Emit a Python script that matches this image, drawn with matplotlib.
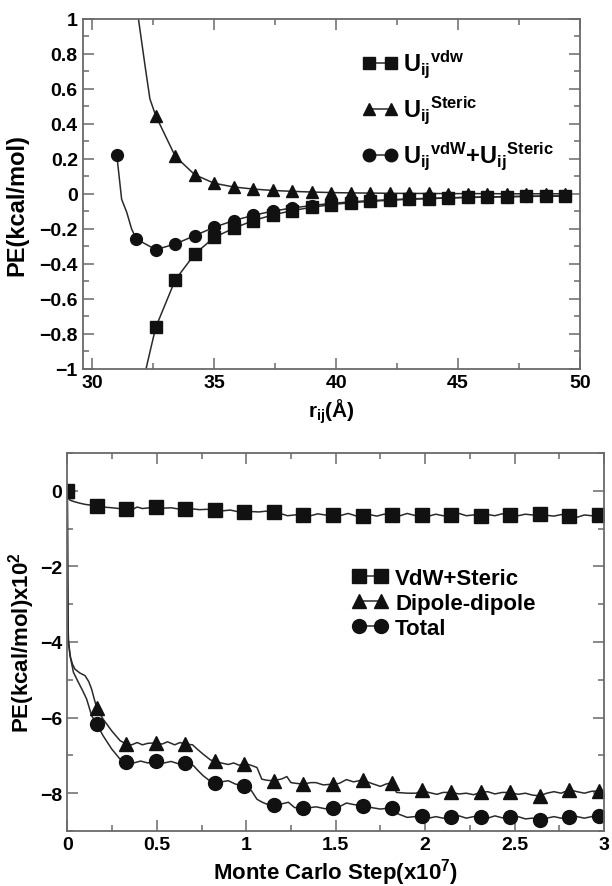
import matplotlib
matplotlib.use("Agg")
import matplotlib.pyplot as plt
from matplotlib.ticker import MultipleLocator, FuncFormatter
from matplotlib.lines import Line2D

plt.rcParams['font.family'] = ['Liberation Sans', 'DejaVu Sans']
plt.rcParams['font.weight'] = 'bold'
plt.rcParams['mathtext.fontset'] = 'custom'
plt.rcParams['mathtext.rm'] = 'Liberation Sans:bold'
plt.rcParams['mathtext.it'] = 'Liberation Sans:bold'
plt.rcParams['mathtext.bf'] = 'Liberation Sans:bold'

# ---------------- top panel data ----------------
r_sq = [32.6, 33.4, 34.2, 35.0, 35.8, 36.6, 37.4, 38.2, 39.0, 39.8, 40.6,
        41.4, 42.2, 43.0, 43.8, 44.6, 45.4, 46.2, 47.0, 47.8, 48.6, 49.4]
u_vdw = [-0.762, -0.491, -0.343, -0.248, -0.196, -0.152, -0.12, -0.095, -0.076,
         -0.061, -0.05, -0.042, -0.036, -0.03, -0.027, -0.023, -0.02, -0.018,
         -0.016, -0.014, -0.013, -0.012]
u_steric = [0.447, 0.215, 0.11, 0.061, 0.04, 0.028, 0.02, 0.015, 0.011, 0.008,
            0.006, 0.005, 0.004, 0.003, 0.003, 0.002, 0.002, 0.002, 0.001,
            0.001, 0.001, 0.001]
r_circ = [31.0, 31.8, 32.6, 33.4, 34.2, 35.0, 35.8, 36.6, 37.4, 38.2, 39.0,
          39.8, 40.6, 41.4, 42.2, 43.0, 43.8, 44.6, 45.4, 46.2, 47.0, 47.8,
          48.6, 49.4]
u_total = [0.225, -0.257, -0.318, -0.286, -0.238, -0.19, -0.152, -0.122, -0.098,
           -0.08, -0.066, -0.054, -0.045, -0.038, -0.033, -0.028, -0.025,
           -0.022, -0.019, -0.017, -0.015, -0.013, -0.012, -0.011]
# extra points read on the curves where they leave the markers
r_vdw_lead = [32.2, 32.39]
u_vdw_lead = [-1.0, -0.886]
r_steric_lead = [31.89, 32.16, 32.36]
u_steric_lead = [1.0, 0.733, 0.543]
r_total_mid = [31.2, 31.41, 31.61]
u_total_mid = [-0.03, -0.105, -0.2]

# ---------------- bottom panel data ----------------
mc_mk = [0, 0.165, 0.33, 0.495, 0.66, 0.825, 0.99, 1.155, 1.32, 1.485, 1.65,
         1.815, 1.98, 2.145, 2.31, 2.475, 2.64, 2.805, 2.97]
vs_mk = [0, -0.40, -0.47, -0.44, -0.47, -0.52, -0.57, -0.57, -0.63, -0.63,
         -0.66, -0.64, -0.64, -0.64, -0.67, -0.64, -0.61, -0.68, -0.64]
dd_mk = [0, -5.75, -6.70, -6.67, -6.70, -7.15, -7.22, -7.67, -7.76, -7.76,
         -7.65, -7.72, -7.92, -7.98, -7.98, -7.98, -8.07, -7.91, -7.94]
tot_mk = [0, -6.18, -7.18, -7.14, -7.20, -7.72, -7.80, -8.30, -8.40, -8.40,
          -8.33, -8.38, -8.60, -8.64, -8.64, -8.64, -8.70, -8.64, -8.60]

vs_x = [0, 0.005, 0.015, 0.04, 0.071, 0.1, 0.13, 0.165, 0.2, 0.25, 0.29, 0.33,
        0.37, 0.39, 0.42, 0.46, 0.495, 0.54, 0.58, 0.62, 0.66, 0.7, 0.74, 0.78,
        0.825, 0.87, 0.91, 0.95, 0.99, 1.03, 1.07, 1.11, 1.155, 1.19, 1.23,
        1.27, 1.32, 1.36, 1.4, 1.44, 1.485, 1.53, 1.57, 1.61, 1.65, 1.69, 1.73,
        1.77, 1.815, 1.86, 1.9, 1.94, 1.98, 2.02, 2.06, 2.1, 2.145, 2.19, 2.23,
        2.27, 2.31, 2.35, 2.39, 2.43, 2.475, 2.52, 2.56, 2.6, 2.64, 2.68, 2.72,
        2.76, 2.805, 2.85, 2.89, 2.93, 2.97, 3.0]
vs_y = [0, -0.15, -0.25, -0.29, -0.33, -0.36, -0.38, -0.40, -0.43, -0.45, -0.47,
        -0.47, -0.48, -0.43, -0.47, -0.45, -0.44, -0.46, -0.45, -0.48, -0.47,
        -0.48, -0.50, -0.49, -0.52, -0.53, -0.51, -0.55, -0.57, -0.55, -0.56,
        -0.54, -0.57, -0.60, -0.66, -0.64, -0.63, -0.66, -0.61, -0.64, -0.63,
        -0.65, -0.60, -0.66, -0.66, -0.63, -0.67, -0.62, -0.64, -0.66, -0.60,
        -0.65, -0.64, -0.67, -0.62, -0.66, -0.64, -0.60, -0.66, -0.64, -0.67,
        -0.63, -0.66, -0.61, -0.64, -0.66, -0.62, -0.64, -0.61, -0.65, -0.67,
        -0.63, -0.68, -0.70, -0.64, -0.66, -0.64, -0.65]

dd_x = [0, 0.002, 0.004, 0.006, 0.015, 0.03, 0.043, 0.07, 0.099, 0.12, 0.136,
        0.15, 0.165, 0.2, 0.248, 0.295, 0.33, 0.36, 0.39, 0.42, 0.45, 0.495,
        0.53, 0.56, 0.6, 0.63, 0.66, 0.7, 0.73, 0.76, 0.8, 0.825, 0.86, 0.9,
        0.93, 0.96, 0.99, 1.02, 1.06, 1.087, 1.12, 1.155, 1.2, 1.227, 1.25,
        1.28, 1.32, 1.36, 1.39, 1.43, 1.485, 1.52, 1.56, 1.6, 1.65, 1.7, 1.75,
        1.78, 1.815, 1.84, 1.9, 1.95, 1.98, 2.02, 2.066, 2.1, 2.145, 2.19, 2.23,
        2.27, 2.31, 2.35, 2.39, 2.43, 2.475, 2.52, 2.56, 2.6, 2.64, 2.68, 2.72,
        2.76, 2.805, 2.85, 2.89, 2.93, 2.97, 3.0]
dd_y = [0, -2.0, -3.3, -3.92, -4.37, -4.6, -4.72, -4.82, -4.89, -5.05, -5.25,
        -5.5, -5.75, -6.04, -6.35, -6.61, -6.70, -6.72, -6.66, -6.72, -6.68,
        -6.67, -6.70, -6.64, -6.72, -6.66, -6.70, -6.72, -6.85, -6.97, -7.12,
        -7.15, -7.20, -7.24, -7.20, -7.26, -7.22, -7.25, -7.32, -7.63, -7.66,
        -7.67, -7.62, -7.56, -7.72, -7.74, -7.76, -7.72, -7.72, -7.78, -7.76,
        -7.74, -7.64, -7.70, -7.65, -7.74, -7.82, -7.76, -7.72, -7.98, -8.00,
        -8.00, -7.92, -7.98, -8.03, -7.98, -7.98, -8.02, -8.00, -8.04, -7.98,
        -7.96, -8.02, -7.98, -7.98, -8.03, -8.00, -8.05, -8.07, -8.00, -7.96,
        -8.00, -7.91, -7.96, -8.00, -7.95, -7.94, -7.96]

tot_x = [0, 0.002, 0.004, 0.006, 0.019, 0.034, 0.062, 0.085, 0.108, 0.136,
         0.165, 0.2, 0.248, 0.295, 0.33, 0.37, 0.41, 0.45, 0.495, 0.54, 0.58,
         0.62, 0.66, 0.705, 0.73, 0.76, 0.79, 0.825, 0.86, 0.9, 0.94, 0.99,
         1.03, 1.06, 1.09, 1.12, 1.155, 1.2, 1.236, 1.27, 1.32, 1.36, 1.39,
         1.44, 1.485, 1.52, 1.56, 1.6, 1.65, 1.7, 1.75, 1.785, 1.815, 1.85, 1.9,
         1.94, 1.98, 2.02, 2.06, 2.1, 2.145, 2.19, 2.23, 2.27, 2.31, 2.35, 2.39,
         2.43, 2.475, 2.52, 2.56, 2.6, 2.64, 2.68, 2.72, 2.76, 2.805, 2.85,
         2.89, 2.93, 2.97, 3.0]
tot_y = [0, -2.2, -3.5, -4.01, -4.45, -4.8, -5.07, -5.28, -5.51, -5.95, -6.18,
         -6.48, -6.83, -7.10, -7.18, -7.20, -7.15, -7.20, -7.14, -7.20, -7.16,
         -7.22, -7.20, -7.27, -7.40, -7.54, -7.65, -7.72, -7.70, -7.67, -7.76,
         -7.80, -7.94, -8.16, -8.24, -8.30, -8.30, -8.28, -8.24, -8.38, -8.40,
         -8.38, -8.36, -8.41, -8.40, -8.36, -8.26, -8.30, -8.33, -8.38, -8.42,
         -8.40, -8.38, -8.55, -8.64, -8.62, -8.60, -8.66, -8.62, -8.66, -8.64,
         -8.60, -8.66, -8.62, -8.64, -8.66, -8.60, -8.65, -8.64, -8.62, -8.68,
         -8.66, -8.70, -8.66, -8.62, -8.66, -8.64, -8.62, -8.66, -8.62, -8.60,
         -8.62]

top_legend = [r'$U_{ij}{}^{vdw}$', r'$U_{ij}{}^{Steric}$',
              r'$U_{ij}{}^{vdW}$+$U_{ij}{}^{Steric}$']
bot_legend = ['VdW+Steric', 'Dipole-dipole', 'Total']

# ---------------- styling ----------------
LC = '#2a2a2a'
MC = '#111111'
SPC = '#6a6a6a'


def fmt(v, pos):
    v = round(v, 6)
    if v == 0:
        return '0'
    return f'{v:g}'.replace('-', '\u2212')


def style_axes(ax):
    for sp in ax.spines.values():
        sp.set_color(SPC)
        sp.set_linewidth(1.3)
    ax.tick_params(which='both', direction='in', top=True, right=True,
                   color=SPC, width=1.1, labelsize=14)
    ax.tick_params(which='major', length=8)
    ax.tick_params(which='minor', length=4.5)
    ax.xaxis.set_major_formatter(FuncFormatter(fmt))
    ax.yaxis.set_major_formatter(FuncFormatter(fmt))
    for lab in ax.get_xticklabels() + ax.get_yticklabels():
        lab.set_fontweight('bold')


fig = plt.figure(figsize=(6.12, 8.87), dpi=100)

# ---- top
ax1 = fig.add_axes([0.135, 0.5829, 0.8126, 0.3946])
ax1.plot(r_vdw_lead + r_sq, u_vdw_lead + u_vdw, '-', color=LC, lw=1.1)
ax1.plot(r_steric_lead + r_sq, u_steric_lead + u_steric, '-', color=LC, lw=1.1)
ax1.plot([r_circ[0]] + r_total_mid + r_circ[1:], [u_total[0]] + u_total_mid + u_total[1:],
         '-', color=LC, lw=1.1)
ax1.plot(r_sq, u_vdw, 's', color=MC, ms=8, ls='none')
ax1.plot(r_sq, u_steric, '^', color=MC, ms=8.5, ls='none')
ax1.plot(r_circ, u_total, 'o', color=MC, ms=8.5, ls='none')
ax1.set_xlim(29.6, 50)
ax1.set_ylim(-1, 1)
ax1.xaxis.set_major_locator(MultipleLocator(5))
ax1.xaxis.set_minor_locator(MultipleLocator(2.5))
ax1.yaxis.set_major_locator(MultipleLocator(0.2))
ax1.yaxis.set_minor_locator(MultipleLocator(0.1))
style_axes(ax1)
ax1.set_ylabel('PE(kcal/mol)', fontsize=17, fontweight='bold')
ax1.yaxis.set_label_coords(-0.11, 0.47)
ax1.set_xlabel(r'$r_{ij}$(Å)', fontsize=15, fontweight='bold', labelpad=4)

h1 = [Line2D([], [], color=LC, lw=1.1, marker=m, ms=s, mfc=MC, mec=MC)
      for m, s in (('s', 8.5), ('^', 9), ('o', 9))]
leg1 = ax1.legend(h1, top_legend, loc='upper left', bbox_to_anchor=(0.5425, 0.945),
                  frameon=False, numpoints=2, handlelength=1.53, handletextpad=0.21,
                  labelspacing=0.6, fontsize=17, borderaxespad=0.0)

# ---- bottom
ax2 = fig.add_axes([0.110, 0.0620, 0.877, 0.4262])
ax2.plot(vs_x, vs_y, '-', color=LC, lw=1.1)
ax2.plot(dd_x, dd_y, '-', color=LC, lw=1.1)
ax2.plot(tot_x, tot_y, '-', color=LC, lw=1.1)
ax2.plot(mc_mk, vs_mk, 's', color=MC, ms=9.5, ls='none')
ax2.plot(mc_mk, dd_mk, '^', color=MC, ms=10, ls='none')
ax2.plot(mc_mk, tot_mk, 'o', color=MC, ms=10, ls='none')
ax2.set_xlim(0, 3)
ax2.set_ylim(-9, 1)
ax2.xaxis.set_major_locator(MultipleLocator(0.5))
ax2.xaxis.set_minor_locator(MultipleLocator(0.25))
ax2.yaxis.set_major_locator(MultipleLocator(2))
ax2.yaxis.set_minor_locator(MultipleLocator(1))
style_axes(ax2)
ax2.set_ylabel(r'PE(kcal/mol)x10$^2$', fontsize=16, fontweight='bold', labelpad=2)
ax2.set_xlabel(r'Monte Carlo Step(x10$^7$)', fontsize=16, fontweight='bold', labelpad=2)

h2 = [Line2D([], [], color=LC, lw=1.1, marker=m, ms=s, mfc=MC, mec=MC)
      for m, s in (('s', 9.5), ('^', 10), ('o', 10))]
leg2 = ax2.legend(h2, bot_legend, loc='upper left', bbox_to_anchor=(0.514, 0.72),
                  frameon=False, numpoints=2, handlelength=1.62, handletextpad=0.32,
                  labelspacing=0.19, fontsize=16, borderaxespad=0.0)

fig.savefig('out.png', dpi=100)
